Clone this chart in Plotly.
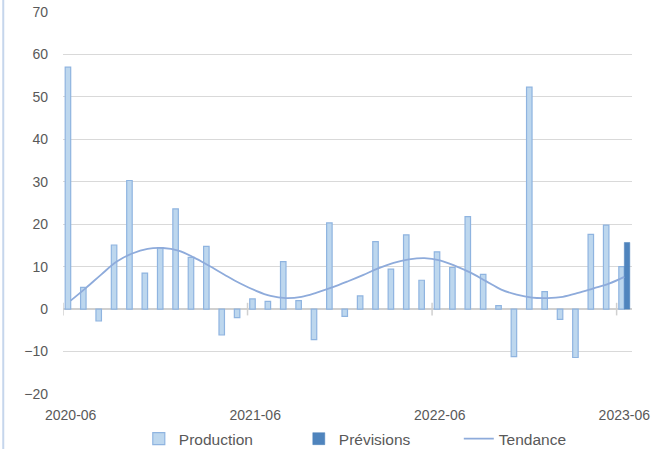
import plotly.graph_objects as go

# ---- data ----
months = ["2020-06","2020-07","2020-08","2020-09","2020-10","2020-11","2020-12",
          "2021-01","2021-02","2021-03","2021-04","2021-05","2021-06","2021-07",
          "2021-08","2021-09","2021-10","2021-11","2021-12","2022-01","2022-02",
          "2022-03","2022-04","2022-05","2022-06","2022-07","2022-08","2022-09",
          "2022-10","2022-11","2022-12","2023-01","2023-02","2023-03","2023-04",
          "2023-05","2023-06"]
production = [57.0, 5.1, -2.8, 15.1, 30.3, 8.5, 14.5, 23.6, 12.2, 14.8, -6.1, -2.0,
              2.4, 1.8, 11.2, 2.0, -7.2, 20.3, -1.7, 3.1, 15.9, 9.4, 17.5, 6.8,
              13.5, 9.8, 21.8, 8.2, 0.8, -11.2, 52.3, 4.1, -2.4, -11.4, 17.6, 19.8, 10.0]
previsions_month = ["2023-06"]
previsions = [15.7]
tendance = [2.0, 5.0, 8.2, 11.2, 13.1, 14.2, 14.4, 13.8, 12.2, 10.2, 8.1, 6.1,
            4.4, 3.1, 2.6, 2.9, 3.9, 5.1, 6.5, 8.0, 9.6, 10.9, 11.7, 12.0,
            11.5, 10.2, 8.6, 6.6, 4.6, 3.4, 2.7, 2.6, 2.9, 3.8, 4.9, 6.0, 7.6]
tick_labels = ["2020-06", "2021-06", "2022-06", "2023-06"]
y_ticks = list(range(-20, 71, 10))

# month index positions (category occupies [i, i+1])
idx = {m: i for i, m in enumerate(months)}
x_center = [idx[m] + 0.5 for m in months]
x_prev = [idx[m] + 0.5 for m in previsions_month]
tick_bound = [idx[m] for m in tick_labels]
tick_center = [idx[m] + 0.5 for m in tick_labels]

FONT = "Liberation Sans, Arial, sans-serif"
GRAY = "#595959"

fig = go.Figure()
fig.add_trace(go.Bar(
    x=x_center, y=production, name="Production",
    marker=dict(color="#bdd7ee", line=dict(color="#8fb4e0", width=1.2)),
))
fig.add_trace(go.Bar(
    x=x_prev, y=previsions, name="Prévisions",
    marker=dict(color="#4f84bd", line=dict(color="#4f84bd", width=0.5)),
))
fig.add_trace(go.Scatter(
    x=x_center, y=tendance, name="Tendance", mode="lines",
    line=dict(color="#8eabdb", width=1.8, shape="spline", smoothing=1.0),
))
# category axis tick marks crossing the zero line
fig.add_trace(go.Scatter(
    x=tick_bound, y=[0] * len(tick_bound), mode="markers", showlegend=False,
    hoverinfo="skip",
    marker=dict(symbol="line-ns-open", size=9, color="#d0d0d0",
                line=dict(color="#d0d0d0", width=1.5)),
))

fig.update_layout(
    width=659, height=449,
    margin=dict(l=63, r=27, t=12, b=55, autoexpand=False),
    paper_bgcolor="white", plot_bgcolor="white",
    barmode="group", bargap=0.285, bargroupgap=0,
    font=dict(family=FONT, color=GRAY, size=14),
    legend=dict(orientation="h", x=0.555, xanchor="center", y=-0.118, yanchor="middle",
                font=dict(size=15.5, color=GRAY), entrywidth=115, entrywidthmode="pixels",
                traceorder="normal"),
    xaxis=dict(range=[0, len(months)], tickvals=tick_center, ticktext=tick_labels,
               showgrid=False, zeroline=False, showline=False, ticks="",
               automargin=False,
               ticklabelstandoff=11, tickfont=dict(size=14, color=GRAY)),
    yaxis=dict(range=[-20, 70], tickvals=y_ticks, showgrid=True, gridcolor="#d9d9d9",
               gridwidth=1, zeroline=True, zerolinecolor="#d0d0d0", zerolinewidth=2,
               showline=False, ticks="", ticklabelstandoff=14, automargin=False,
               tickfont=dict(size=14, color=GRAY)),
    shapes=[dict(type="line", xref="paper", yref="paper", x0=-0.105, x1=-0.105,
                 y0=-0.2, y1=1.1, line=dict(color="#c6d6ec", width=2))],
)

fig.write_html("out.html", config={"displayModeBar": False},
               post_script="document.body.style.margin='0';document.body.style.overflow='hidden';")
